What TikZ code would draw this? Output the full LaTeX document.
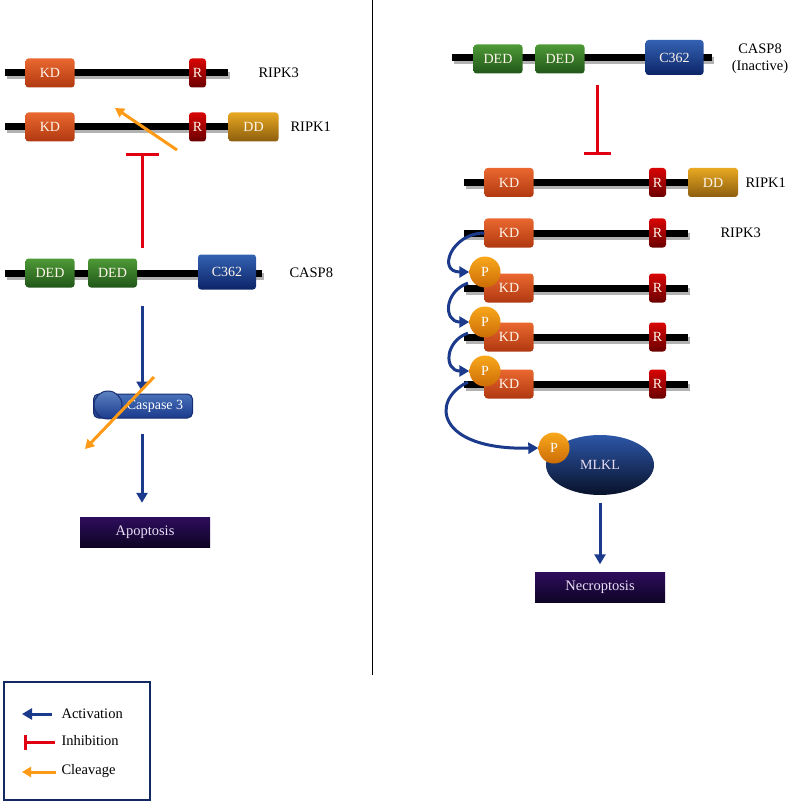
\documentclass[tikz,border=0pt]{standalone}
\usepackage{fontspec}
\setmainfont{Liberation Serif}
\usetikzlibrary{arrows.meta,shapes.geometric}

\definecolor{kdtop}{HTML}{EA6830}
\definecolor{kdbot}{HTML}{B03810}
\definecolor{rtop}{HTML}{D80404}
\definecolor{rbot}{HTML}{6A0000}
\definecolor{ddtop}{HTML}{E8A822}
\definecolor{ddbot}{HTML}{8C5E0E}
\definecolor{dedtop}{HTML}{4E9A36}
\definecolor{dedbot}{HTML}{21561A}
\definecolor{ctop}{HTML}{3462B2}
\definecolor{cbot}{HTML}{0C2468}
\definecolor{ptop}{HTML}{F9A81C}
\definecolor{pbot}{HTML}{CC6C06}
\definecolor{fatetop}{HTML}{2E0D5C}
\definecolor{fatebot}{HTML}{0E0425}
\definecolor{lavender}{HTML}{E8DDF5}
\definecolor{actblue}{HTML}{1B3A8C}
\definecolor{inhred}{HTML}{E00012}
\definecolor{clvorange}{HTML}{FF9A16}

\tikzset{
    backbone/.style = {line width=7pt, black},
    bbshadow/.style = {line width=7pt, black!30},
    dom/.style = {rounded corners=3pt, minimum height=29pt, inner sep=0pt,
        text=white!92!orange, font=\fontsize{14}{16}\selectfont},
    kd/.style = {dom, minimum width=49pt, top color=kdtop, bottom color=kdbot},
    rdom/.style = {dom, minimum width=17pt, top color=rtop, bottom color=rbot},
    dd/.style = {dom, minimum width=50pt, top color=ddtop, bottom color=ddbot},
    ded/.style = {dom, minimum width=49pt, top color=dedtop, bottom color=dedbot},
    cdom/.style = {dom, minimum width=58pt, minimum height=35pt, top color=ctop, bottom color=cbot},
    pho/.style = {circle, minimum size=31pt, inner sep=0pt, text=white,
        top color=ptop, bottom color=pbot, font=\fontsize{14}{16}\selectfont},
    fate/.style = {minimum width=130pt, minimum height=30pt, inner sep=0pt,
        top color=fatetop, bottom color=fatebot, text=lavender, font=\fontsize{14.5}{16}\selectfont},
    lab/.style = {anchor=west, font=\fontsize{14.5}{17}\selectfont},
    act/.style = {-{Triangle[width=11pt,length=10pt]}, actblue, line width=3pt},
    inh/.style = {-{Bar[width=#1]}, inhred, line width=3pt},
    clv/.style = {-{Triangle[width=10pt,length=9pt]}, clvorange, line width=3pt}
}

\newcommand{\backbone}[3]{%
    \draw [bbshadow] (#1+2, #3+3) -- (#2+2, #3+3);
    \draw [backbone] (#1, #3) -- (#2, #3);}

\begin{document}
\begin{tikzpicture}[x=1pt, y=-1pt]
    \useasboundingbox (0, 0) rectangle (787, 802);

    % divider
    \draw [black, line width=1pt] (372, 0) -- (372, 675);

    % left: RIPK3, RIPK1, CASP8
    \backbone{5}{228}{73}
    \node [kd] (l3kd) at (50, 73) {KD};
    \node [rdom] (l3r) at (197.5, 73) {R};
    \node [lab] (l3lab) at (255, 73) {RIPK3};

    \backbone{5}{240}{127}
    \node [kd] (l1kd) at (50, 127) {KD};
    \node [rdom] (l1r) at (197.5, 127) {R};
    \node [dd] (l1dd) at (253.5, 127) {DD};
    \node [lab] (l1lab) at (287, 127) {RIPK1};

    \backbone{5}{262}{273}
    \node [ded] (l8d1) at (50, 273) {DED};
    \node [ded] (l8d2) at (112.5, 273) {DED};
    \node [cdom] (l8c) at (227, 272) {C362};
    \node [lab] (l8lab) at (286, 273) {CASP8};

    \coordinate (l8top) at (142, 248);
    \coordinate (l1block) at (142, 153);
    \draw [inh=33pt] (l8top) -- (l1block);
    \coordinate (l1cut) at (177, 150);
    \coordinate (l1cutend) at (115, 108);
    \draw [clv] (l1cut) -- (l1cutend);

    % caspase 3 and apoptosis
    \node [draw=actblue!80!black, line width=1pt, rounded corners=5pt, minimum width=99pt,
        minimum height=24pt, inner sep=0pt, top color=ctop!90!white, bottom color=actblue] (casp3) at (143, 406) {};
    \node [circle, draw=actblue!80!black, line width=1pt, minimum size=28pt, inner sep=0pt,
        top color=ctop!80!white, bottom color=actblue] (casp3c) at (108, 405) {};
    \node [text=white, font=\fontsize{14}{16}\selectfont] (casp3txt) at (155, 406) {Caspase 3};
    \coordinate (l8bot) at (142, 306);
    \draw [act] (l8bot) -- ([yshift=2pt]casp3.north -| l8bot);
    \coordinate (c3cut) at (154, 377);
    \coordinate (c3cutend) at (85, 449);
    \draw [clv] (c3cut) -- (c3cutend);

    \node [fate] (apop) at (145, 532) {Apoptosis};
    \draw [act] ([yshift=-15pt]casp3.south -| l8bot) -- ([yshift=14pt]apop.north -| l8bot);

    % right: CASP8 (inactive) and RIPK1
    \backbone{452}{712}{58}
    \node [ded] (r8d1) at (498, 59) {DED};
    \node [ded] (r8d2) at (560, 59) {DED};
    \node [cdom] (r8c) at (674.5, 57.5) {C362};
    \node [font=\fontsize{14.5}{17}\selectfont, align=center] (r8lab) at (760, 59) {CASP8\\(Inactive)};

    \backbone{464}{700}{183}
    \node [kd] (r1kd) at (509, 182.5) {KD};
    \node [rdom] (r1r) at (657.5, 182.5) {R};
    \node [dd] (r1dd) at (713, 182.5) {DD};
    \node [lab] (r1lab) at (742, 182.5) {RIPK1};

    \coordinate (r8bot) at (597, 85);
    \coordinate (r1block) at (597, 155);
    \draw [inh=27pt] (r8bot) -- (r1block);

    % RIPK3 chain
    \foreach \y [count=\i] in {233, 288, 337, 384} {
        \backbone{464}{688}{\y}
        \node [kd] (kd\i) at (509, \y) {KD};
        \node [rdom] (rr\i) at (657.5, \y) {R};
    }
    \node [lab] (r3lab) at (717, 233) {RIPK3};
    \node [pho] (p2) at (485, 272) {P};
    \node [pho] (p3) at (485, 322) {P};
    \node [pho] (p4) at (485, 371) {P};

    \draw [act] (kd1.west) to [out=180, in=180, looseness=2] (p2.west);
    \draw [act] ([xshift=-6pt]p2.south west) to [out=200, in=180, looseness=1.7] (p3.west);
    \draw [act] ([xshift=-6pt]p3.south west) to [out=200, in=180, looseness=1.7] (p4.west);

    % MLKL and necroptosis
    \node [ellipse, minimum width=108pt, minimum height=60pt, inner sep=0pt,
        top color=ctop!70!actblue, bottom color=black!70!actblue, text=lavender,
        font=\fontsize{14}{16}\selectfont] (mlkl) at (600, 465) {MLKL};
    \node [pho] (pm) at (554, 448) {P};
    \draw [act] ([xshift=-6pt]p4.south west) .. controls (430, 400) and (436, 450) .. (pm.west);

    \node [fate] (necro) at (600, 587.5) {Necroptosis};
    \draw [act] ([yshift=-8pt]mlkl.south) -- ([yshift=8pt]necro.north);

    % legend
    \node [draw=actblue!70!black, line width=1.5pt, minimum width=146pt, minimum height=118pt,
        inner sep=0pt] (legend) at (77, 741) {};
    \coordinate (actR) at (52, 714);
    \coordinate (actL) at (22, 714);
    \draw [act] (actR) -- (actL);
    \node [lab] (actlab) at (58, 714) {Activation};
    \coordinate (inhR) at (55, 742);
    \coordinate (inhL) at (24, 742);
    \draw [inh=15pt] (inhR) -- (inhL);
    \node [lab] (inhlab) at (58, 741) {Inhibition};
    \coordinate (clvR) at (56, 772);
    \coordinate (clvL) at (22, 772);
    \draw [clv] (clvR) -- (clvL);
    \node [lab] (clvlab) at (58, 771) {Cleavage};
\end{tikzpicture}
\end{document}
